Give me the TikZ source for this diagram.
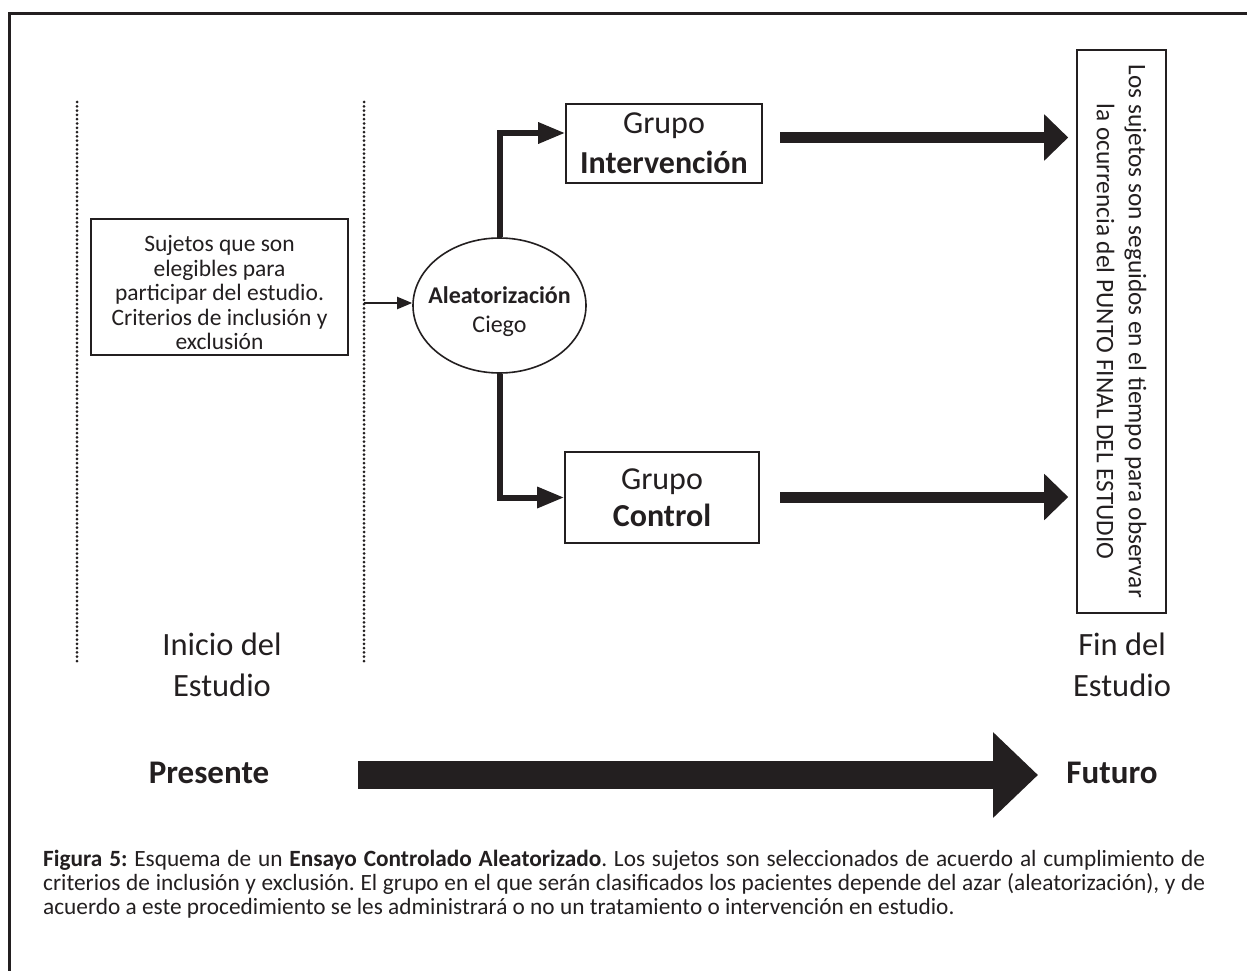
\documentclass[tikz,border=0pt]{standalone}
\usepackage{fontspec}
\setmainfont{Carlito}
\usetikzlibrary{arrows.meta,shapes.geometric}
\definecolor{ink}{HTML}{231F20}
\begin{document}
\begin{tikzpicture}[x=1pt,y=-1pt,
  box/.style={draw=ink, line width=1.6pt, inner sep=0pt, align=center, text=ink},
  lbl/.style={inner sep=0pt, align=center, text=ink},
  dotline/.style={draw=ink, line width=3pt, dash pattern=on 0pt off 4.3pt, line cap=round},
  thinarrow/.style={draw=ink, line width=2pt, -{Triangle[length=15pt,width=12pt]}},
  brancharrow/.style={draw=ink, line width=6pt, -{Triangle[length=27pt,width=20pt]}},
  fatarrow/.style={draw=ink, line width=11pt, -{Triangle[length=24pt,width=45pt]}},
  hugearrow/.style={draw=ink, line width=28pt, -{Triangle[length=45pt,width=83pt]}}
]
\useasboundingbox (0,0) rectangle (1247,971);
\fill[white] (0,0) rectangle (1247,971);
% frame
\draw[ink, line width=3pt] (9,971) -- (9,14) -- (1247,14);
% dotted time lines
\coordinate (d1a) at (77,102); \coordinate (d1b) at (77,662);
\coordinate (d2a) at (364,102); \coordinate (d2b) at (364,662);
\draw[dotline] (d1a) -- (d1b);
\draw[dotline] (d2a) -- (d2b);
% nodes
\node[box, minimum width=257pt, minimum height=136pt,
      font=\fontsize{23.5}{24.5}\selectfont] (elig) at (219.5,287)
  {\rule{0pt}{28pt}Sujetos que son\\elegibles para\\participar del estudio.\\Criterios de inclusión y\\exclusión};
\node[box, ellipse, inner xsep=-14pt, minimum width=173pt, minimum height=135pt,
      font=\fontsize{24}{29}\selectfont] (alea) at (499.5,305.5)
  {\rule{0pt}{30pt}\textbf{Aleatorización}\\Ciego};
\node[box, minimum width=196pt, minimum height=79pt,
      font=\fontsize{32}{40}\selectfont] (interv) at (664,143.5)
  {Grupo\\\textbf{Intervención}};
\node[box, minimum width=194pt, minimum height=91pt,
      font=\fontsize{32}{37}\selectfont] (ctrl) at (662,497.5)
  {Grupo\\\textbf{Control}};
\node[box, rotate=-90, minimum width=563pt, minimum height=89pt,
      font=\fontsize{25.3}{32}\selectfont] (fin) at (1121.5,331.5)
  {Los sujetos son seguidos en el tiempo para observar\\la ocurrencia del PUNTO FINAL DEL ESTUDIO};
% labels
\node[lbl, font=\fontsize{32.5}{41}\selectfont] (inicio) at (222,665) {Inicio del\\Estudio};
\node[lbl, font=\fontsize{32.5}{41}\selectfont] (finlbl) at (1122,665) {Fin del\\Estudio};
\node[lbl, font=\fontsize{33}{36}\selectfont\bfseries] (pres) at (209,773) {Presente};
\node[lbl, font=\fontsize{33}{36}\selectfont\bfseries] (fut) at (1112,773) {Futuro};
% connectors
\coordinate (tstart) at (364,303);
\draw[thinarrow] (tstart) -- (tstart -| alea.west);
\draw[brancharrow] (alea.north) |- ([yshift=10.5pt]interv.west);
\draw[brancharrow] (alea.south) |- (ctrl.west);
\coordinate (f1) at (780,137.5);
\coordinate (f2) at (780,497);
\draw[fatarrow, shorten >=8pt] (f1) -- (f1 -| fin.south);
\draw[fatarrow, shorten >=8pt] (f2) -- (f2 -| fin.south);
\coordinate (h1) at (358,775);
\coordinate (h2) at (1038,775);
\draw[hugearrow] (h1) -- (h2);
% caption
\node[lbl, anchor=north west, text width=1162pt, align=justify,
      font=\fontsize{23.3}{24}\selectfont\frenchspacing] (cap) at (43,850)
  {\textbf{Figura 5:} Esquema de un \textbf{Ensayo Controlado Aleatorizado}. Los sujetos son seleccionados de acuerdo al cumplimiento de\linebreak criterios de inclusión y exclusión. El grupo en el que serán clasificados los pacientes depende del azar (aleatorización), y de\linebreak acuerdo a este procedimiento se les administrará o no un tratamiento o intervención en estudio.};
\end{tikzpicture}
\end{document}
